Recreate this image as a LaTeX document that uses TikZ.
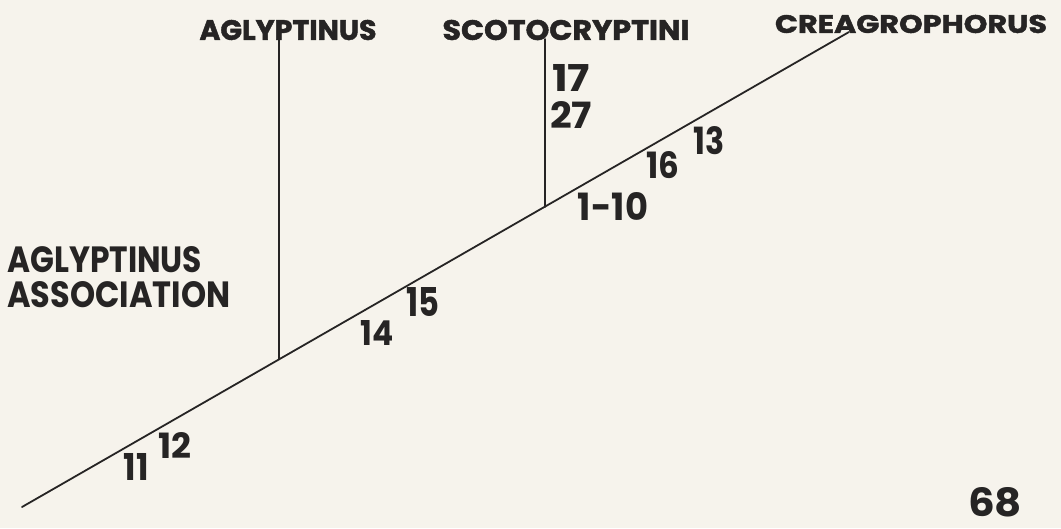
\documentclass[tikz,border=0pt]{standalone}
\usepackage{fontspec}
\setmainfont{Poppins}
\newfontfamily\heavy{Poppins}[BoldFeatures={FakeBold=1.6}]
\usepackage{graphicx}
\definecolor{bg}{RGB}{246,243,236}
\definecolor{ink}{RGB}{38,36,36}
\newcommand{\fitlbl}[3]{\resizebox{#1pt}{#2pt}{\bfseries #3}}
\newcommand{\fithvy}[3]{\resizebox{#1pt}{#2pt}{\heavy\bfseries #3}}
\begin{document}
\begin{tikzpicture}[x=1pt,y=-1pt,
  lbl/.style={inner sep=0pt,text=ink},
  branch/.style={draw=ink,line width=1.8pt,line cap=round}]
\fill[bg] (0,0) rectangle (1061,528);
\useasboundingbox (0,0) rectangle (1061,528);
% main axis
\coordinate (s) at (22,507);
\coordinate (e) at (849,32);
\draw[branch] (s) -- (e);
% branches
\coordinate (b1) at (279,359);
\coordinate (t1) at (279,40);
\draw[branch] (t1) -- (b1);
\coordinate (b2) at (545,207);
\coordinate (t2) at (545,39);
\draw[branch] (t2) -- (b2);
% top labels
\node[lbl] (agl) at (288,30) {\fithvy{177}{20}{AGLYPTINUS}};
\node[lbl] (sco) at (566,30) {\fithvy{247}{20}{SCOTOCRYPTINI}};
\node[lbl] (cre) at (911,24) {\fithvy{272}{18}{CREAGROPHORUS}};
% numbers
\node[lbl] (n17) at (571,78) {\fitlbl{38}{27}{17}};
\node[lbl] (n27) at (571,115) {\fitlbl{42}{27}{27}};
\node[lbl] (n13) at (709,141) {\fitlbl{31}{28}{13}};
\node[lbl] (n16) at (663,165) {\fitlbl{33}{27}{16}};
\node[lbl] (n110) at (613,206) {\fitlbl{70}{28}{1-10}};
\node[lbl] (n15) at (423,302) {\fitlbl{33}{29}{15}};
\node[lbl] (n14) at (377,333) {\fitlbl{33}{25}{14}};
\node[lbl] (n12) at (175,445) {\fitlbl{33}{26}{12}};
\node[lbl] (n11) at (136,467) {\fitlbl{25}{27}{11}};
% association label
\node[lbl,anchor=west] (as1) at (7,260) {\fitlbl{195}{26}{AGLYPTINUS}};
\node[lbl,anchor=west] (as2) at (7,295) {\fitlbl{223}{26}{ASSOCIATION}};
% page number
\node[lbl] (pg) at (995,502) {\fitlbl{54}{29}{68}};
\end{tikzpicture}
\end{document}
